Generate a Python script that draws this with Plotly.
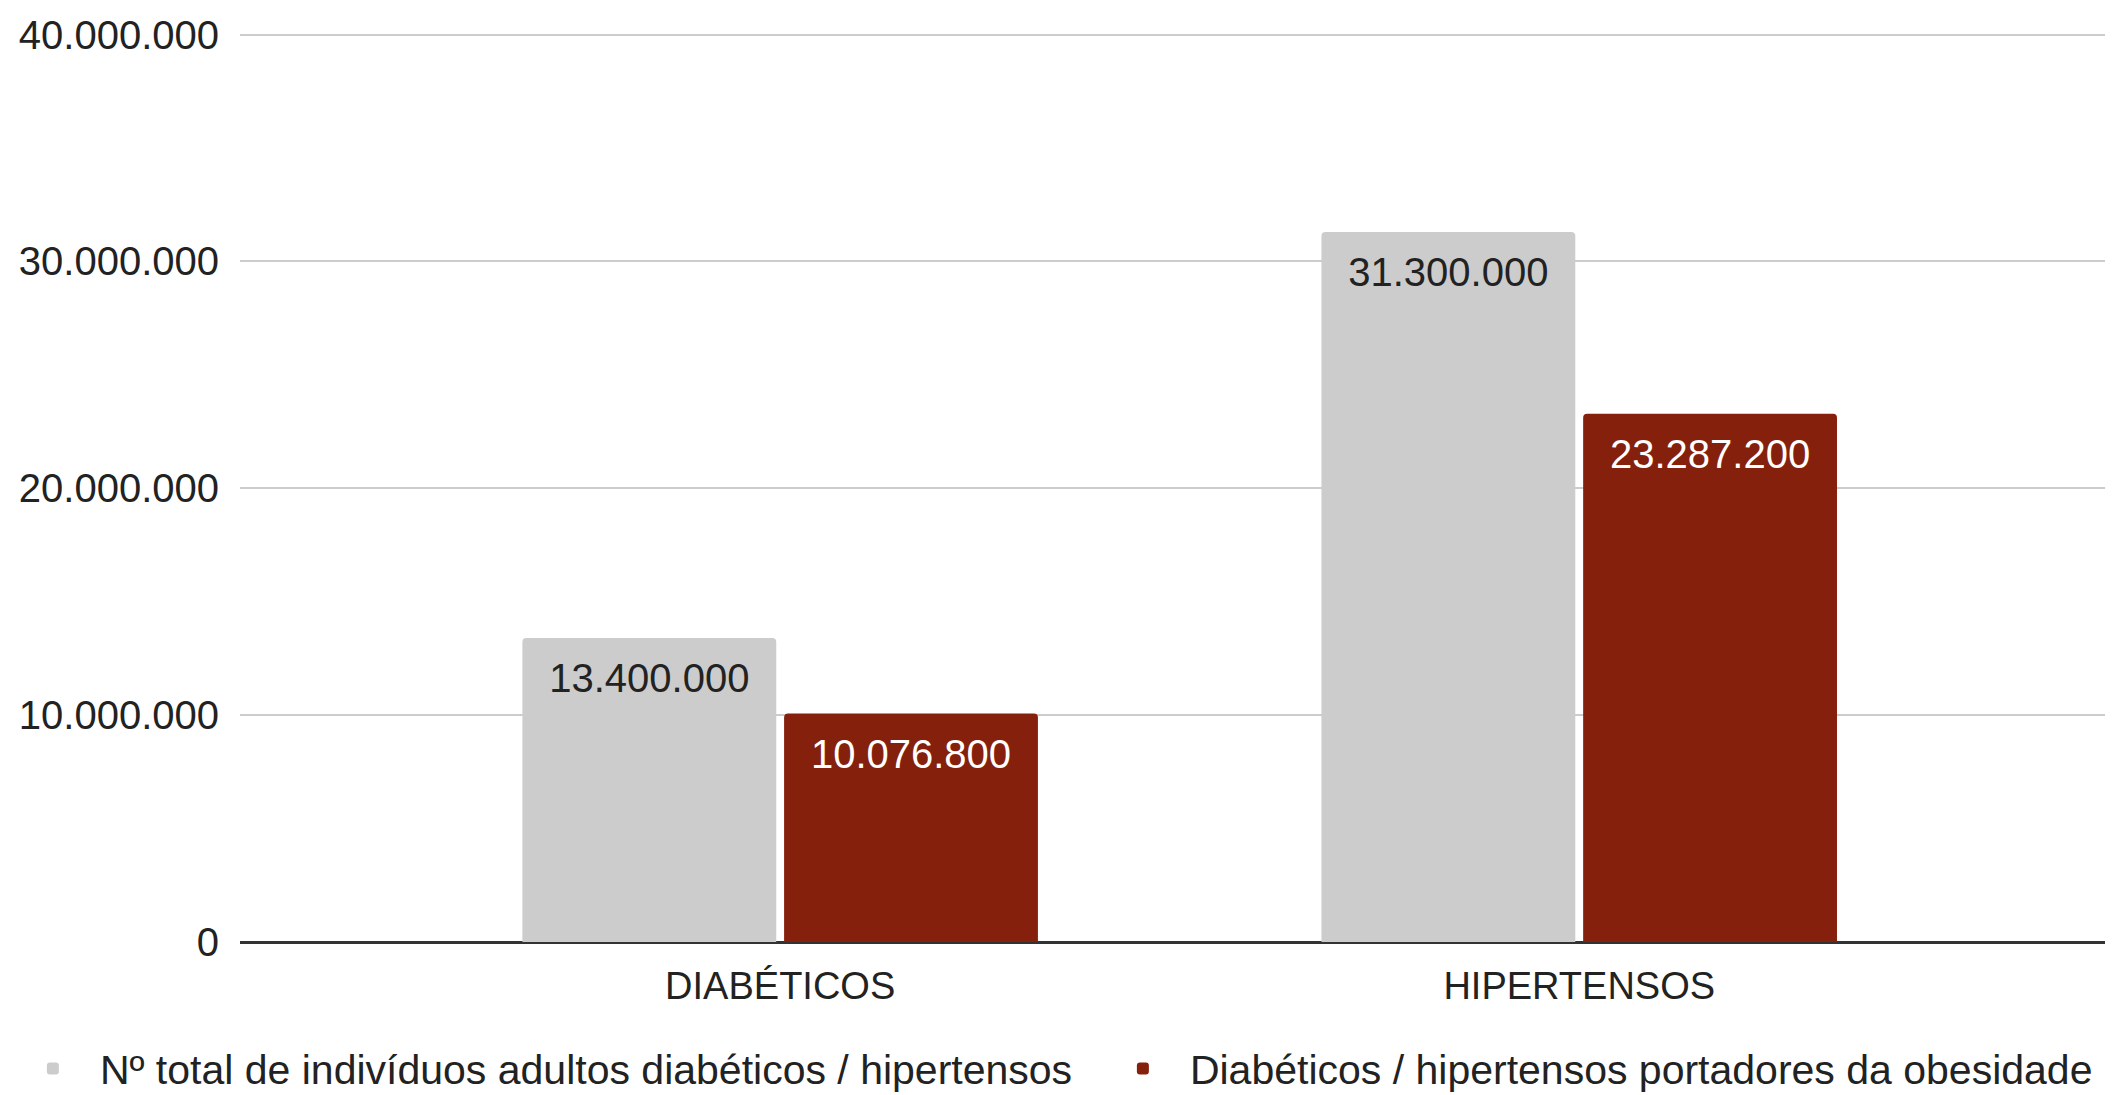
import plotly.graph_objects as go

categories = ["DIABÉTICOS", "HIPERTENSOS"]
total_values = [13400000, 31300000]
obese_values = [10076800, 23287200]
series_names = [
    "Nº total de indivíduos adultos diabéticos / hipertensos",
    "Diabéticos / hipertensos portadores da obesidade",
]
y_ticks = [0, 10000000, 20000000, 30000000, 40000000]

FONT = "Liberation Sans, Arial, sans-serif"
GRAY = "#cccccc"
RED = "#85200c"
GAP = 0.345

fig = go.Figure()
fig.add_trace(go.Bar(
    x=categories, y=total_values, name=series_names[0],
    marker=dict(color=GRAY, line=dict(width=0)), hoverinfo="x+y",
    legendwidth=991,
))
fig.add_trace(go.Bar(
    x=categories, y=obese_values, name=series_names[1],
    marker=dict(color=RED, line=dict(width=0)), hoverinfo="x+y",
))
# value labels placed just below the top of each bar
for vals, col in ((total_values, "#222222"), (obese_values, "#ffffff")):
    fig.add_trace(go.Scatter(
        x=categories, y=vals, mode="markers+text",
        marker=dict(size=37, opacity=0, color=col),
        texttemplate="%{y:,.0f}", textposition="bottom center",
        textfont=dict(color=col, size=40, family=FONT),
        showlegend=False, hoverinfo="skip", cliponaxis=False,
    ))

fig.update_layout(
    width=2105, height=1087,
    separators=",.",
    barmode="group", bargap=GAP, bargroupgap=0.03, barcornerradius=4,
    scattermode="group", scattergap=GAP,
    plot_bgcolor="white", paper_bgcolor="white",
    margin=dict(l=232, r=0, t=22, b=153, pad=0, autoexpand=False),
    font=dict(family=FONT, size=40, color="#222222"),
    showlegend=True,
    legend=dict(
        orientation="h", xref="paper", yref="paper",
        x=-0.125, xanchor="left", y=-0.139, yanchor="middle",
        font=dict(size=41, family=FONT, color="#222222"),
        itemwidth=84, bgcolor="rgba(0,0,0,0)",
    ),
)
fig.update_yaxes(
    range=[0, 40200000], tickvals=y_ticks, tickformat=",d",
    showgrid=True, gridcolor="#cccccc", gridwidth=2,
    zeroline=True, zerolinecolor="#333333", zerolinewidth=3,
    showline=False, ticks="", ticklabelstandoff=20,
    tickfont=dict(size=40, family=FONT, color="#222222"),
)
fig.update_xaxes(
    range=[-0.676, 1.668], showgrid=False, showline=False, ticks="",
    ticklabelstandoff=18,
    tickfont=dict(size=38, family=FONT, color="#222222"),
)

fig.write_html("out.html")
